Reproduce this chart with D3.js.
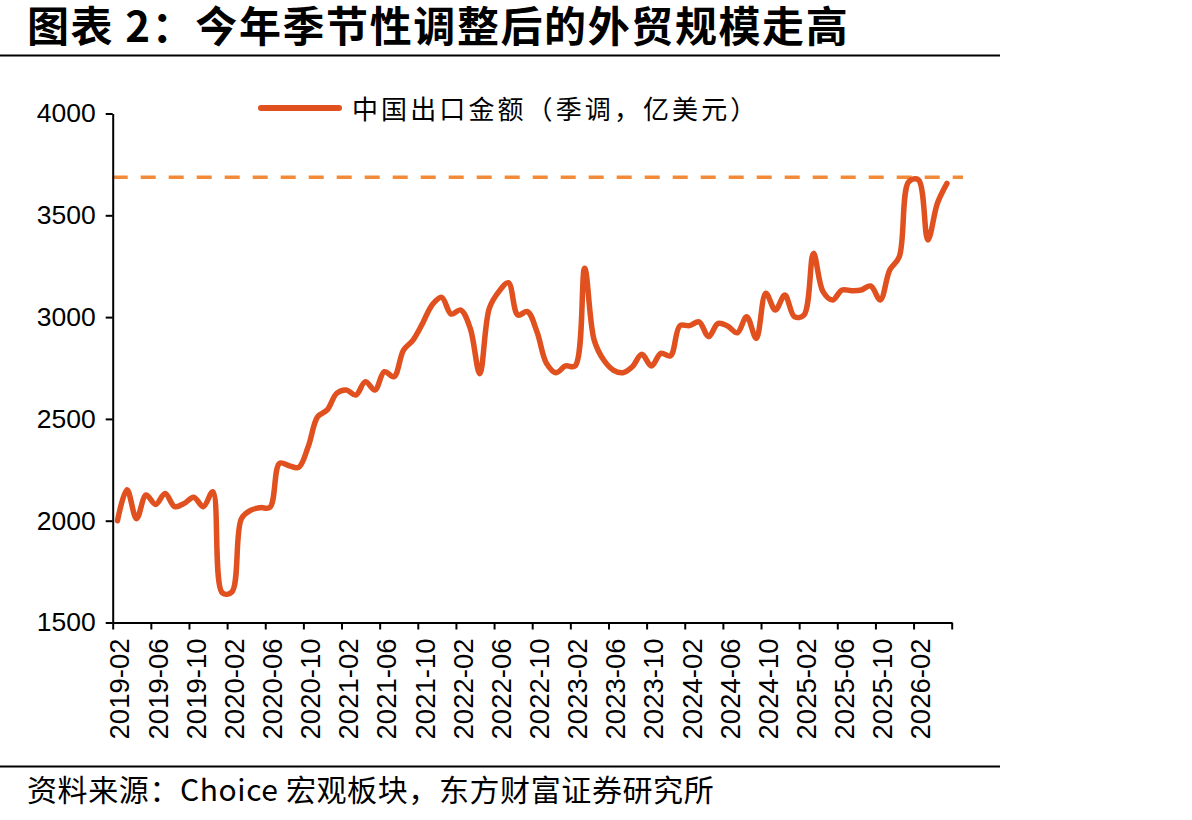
<!DOCTYPE html>
<html><head><meta charset="utf-8">
<script src="https://cdn.jsdelivr.net/npm/d3@7"></script>
<style>
html,body{margin:0;padding:0;background:#fff;}
svg{display:block;}
</style></head>
<body>
<svg id="c" width="1192" height="820"></svg>
<script>
const titleText = "图表 2：今年季节性调整后的外贸规模走高";
const sourceText = "资料来源：Choice 宏观板块，东方财富证券研究所";
const seriesName = "中国出口金额（季调，亿美元）";

const months = [
"2019-02","2019-03","2019-04","2019-05","2019-06","2019-07","2019-08","2019-09","2019-10","2019-11","2019-12",
"2020-01","2020-02","2020-03","2020-04","2020-05","2020-06","2020-07","2020-08","2020-09","2020-10","2020-11","2020-12",
"2021-01","2021-02","2021-03","2021-04","2021-05","2021-06","2021-07","2021-08","2021-09","2021-10","2021-11","2021-12",
"2022-01","2022-02","2022-03","2022-04","2022-05","2022-06","2022-07","2022-08","2022-09","2022-10","2022-11","2022-12",
"2023-01","2023-02","2023-03","2023-04","2023-05","2023-06","2023-07","2023-08","2023-09","2023-10","2023-11","2023-12",
"2024-01","2024-02","2024-03","2024-04","2024-05","2024-06","2024-07","2024-08","2024-09","2024-10","2024-11","2024-12",
"2025-01","2025-02","2025-03","2025-04","2025-05","2025-06","2025-07","2025-08","2025-09","2025-10","2025-11","2025-12",
"2026-01","2026-02","2026-03","2026-04","2026-05"];

const exportsSA = [
2000,2152,2010,2126,2080,2134,2069,2085,2115,2069,2142,
1645,1650,2010,2052,2064,2066,2282,2270,2262,2363,2511,2544,
2626,2642,2617,2683,2642,2732,2707,2838,2887,2969,3060,3097,
3015,3035,2945,2722,3043,3125,3169,3010,3027,2928,2773,2727,
2760,2760,3240,2887,2789,2740,2727,2756,2817,2760,2822,2810,
2958,2958,2977,2904,2969,2956,2923,3002,2896,3117,3035,3108,
3002,3010,3313,3125,3084,3133,3130,3133,3153,3084,3231,3297,
3665,3675,3379,3559,3657];

const peakLevel = 3687;

const xTickLabels = ["2019-02","2019-06","2019-10","2020-02","2020-06","2020-10","2021-02","2021-06","2021-10",
"2022-02","2022-06","2022-10","2023-02","2023-06","2023-10","2024-02","2024-06","2024-10","2025-02","2025-06","2025-10","2026-02"];
const yTicks = [1500,2000,2500,3000,3500,4000];

const svg = d3.select("#c");
const L = 112.7, R = 951.7, T = 113.5, B = 622.5;
const lineColor = "#E0511F", dashColor = "#F28A38";
const latin = "'Liberation Sans', Arial, sans-serif";
const cjk = "'Noto Sans CJK SC', sans-serif";

const x = d3.scaleBand().domain(months).range([L, R]).paddingInner(0).paddingOuter(0);
const xi = d3.scaleLinear().domain([0, months.length]).range([L, R]);
const y = d3.scaleLinear().domain([1500, 4000]).range([B, T]);
const cx = m => x(m) + x.bandwidth() / 2;

// title
svg.append("text").attr("x", 27).attr("y", 42)
  .attr("font-family", cjk).attr("font-weight", 700).attr("font-size", 42)
  .attr("letter-spacing", 1.6)
  .attr("fill", "#000").text(titleText);
svg.append("line").attr("x1", 0).attr("x2", 1000).attr("y1", 55.5).attr("y2", 55.5)
  .attr("stroke", "#000").attr("stroke-width", 2);

// dashed reference line
svg.append("line").attr("x1", L).attr("x2", 963).attr("y1", y(peakLevel)).attr("y2", y(peakLevel))
  .attr("stroke", dashColor).attr("stroke-width", 3.5).attr("stroke-dasharray", "15,13");

// y axis
const yAxis = svg.append("g").attr("transform", `translate(${L},0)`)
  .call(d3.axisLeft(y).tickValues(yTicks).tickFormat(d3.format("d")).tickSize(7).tickPadding(10).tickSizeOuter(0));
yAxis.select(".domain").attr("stroke", "#000").attr("stroke-width", 2);
yAxis.selectAll(".tick line").attr("stroke", "#000").attr("stroke-width", 2);
yAxis.selectAll(".tick text").attr("font-family", latin).attr("font-size", 26.5).attr("fill", "#000");

// x axis ticks
const tickIdx = d3.range(0, months.length + 1, 4);
const xAxis = svg.append("g").attr("transform", `translate(0,${B})`)
  .call(d3.axisBottom(xi).tickValues(tickIdx).tickSize(7).tickFormat("").tickSizeOuter(0));
xAxis.select(".domain").attr("stroke", "#000").attr("stroke-width", 2);
xAxis.selectAll(".tick line").attr("stroke", "#000").attr("stroke-width", 2);

svg.append("g").selectAll("text").data(xTickLabels).join("text")
  .attr("transform", d => `translate(${cx(d) + 2.5},${B + 16}) rotate(-90)`)
  .attr("text-anchor", "end").attr("dominant-baseline", "central")
  .attr("font-family", latin).attr("font-size", 27.5).attr("fill", "#000")
  .text(d => d);

// series line
const line = d3.line().x((d, i) => cx(months[i])).y(d => y(d)).curve(d3.curveCatmullRom.alpha(0.5));
svg.append("path").datum(exportsSA).attr("d", line)
  .attr("fill", "none").attr("stroke", lineColor).attr("stroke-width", 5.5)
  .attr("stroke-linejoin", "round").attr("stroke-linecap", "round");

// legend
svg.append("line").attr("x1", 261).attr("x2", 339).attr("y1", 108).attr("y2", 108)
  .attr("stroke", lineColor).attr("stroke-width", 6).attr("stroke-linecap", "round");
svg.append("text").attr("x", 352).attr("y", 119)
  .attr("font-family", cjk).attr("font-size", 26).attr("letter-spacing", 3.1)
  .attr("fill", "#000").text(seriesName);

// bottom rule & source
svg.append("line").attr("x1", 0).attr("x2", 1000).attr("y1", 766.5).attr("y2", 766.5)
  .attr("stroke", "#000").attr("stroke-width", 2);
svg.append("text").attr("x", 27).attr("y", 801)
  .attr("font-family", cjk).attr("font-size", 30).attr("letter-spacing", 0.6)
  .attr("fill", "#000").text(sourceText);
</script>
</body></html>
